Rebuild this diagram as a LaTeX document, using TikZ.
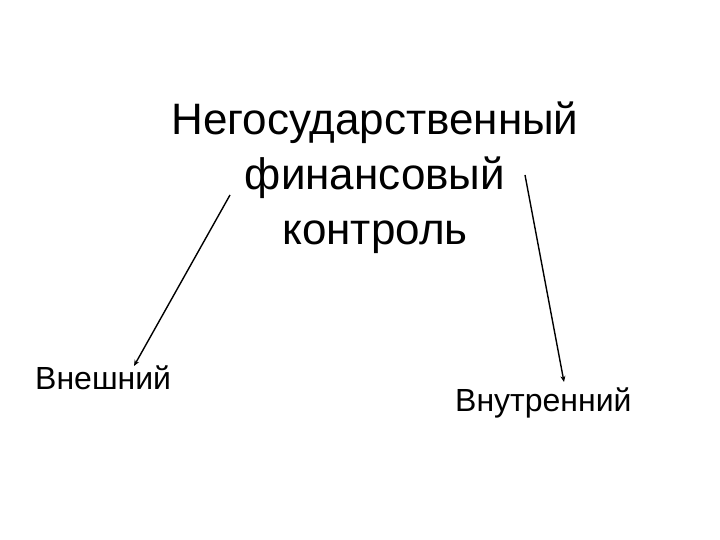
\documentclass[tikz,border=0pt]{standalone}
\usepackage{fontspec}
\setmainfont{Liberation Sans}
\usepackage{tikz}
\usetikzlibrary{arrows.meta}
\usetikzlibrary{positioning}

\begin{document}
\begin{tikzpicture}[x=1pt,y=1pt]
% 1 = 1px of the slide
    \def\XMID{375}
    \def\YTITLE{295} % baseline of the last title line

    \tikzset{
      title/.style={align=center,inner sep=0pt,anchor=base,
        font=\fontsize{44}{55}\selectfont},
      branch/.style={inner sep=0pt,anchor=base west,
        font=\fontsize{32}{38}\selectfont},
      link/.style={-{Stealth[length=6pt,width=5pt]},line width=1.4pt},
    }

    \useasboundingbox (0,0) rectangle (720,540);

    % TITLE
    \node[title] (ctrl) at (\XMID,\YTITLE)
        {Негосударственный\\финансовый\\контроль};

    % BRANCHES
    \node[branch] (ext) at (35,150) {Внешний};
    \node[branch] (int) at (455,128) {Внутренний};

    % ARROWS
    \coordinate (lstart) at (230,345);
    \coordinate (lend) at (134,174);
    \coordinate (rstart) at (525,365);
    \coordinate (rend) at (564,158);
    \draw[link] (lstart) -- (lend);
    \draw[link] (rstart) -- (rend);

\end{tikzpicture}
\end{document}
